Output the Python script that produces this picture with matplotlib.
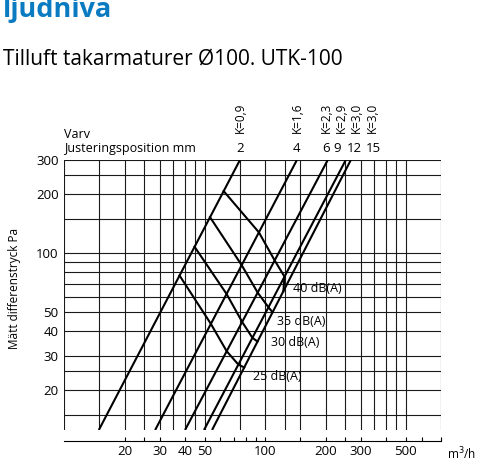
import numpy as np
import matplotlib.pyplot as plt

plt.rcParams['font.family'] = ['Open Sans', 'DejaVu Sans']

# K-value lines: flow (m3/h) at the bottom and top pressure (Pa)
k_names = ['K=0,9', 'K=1,6', 'K=2,3', 'K=2,9', 'K=3,0']
p_ends = [12.5, 300]
q_bottom = [14.9, 28.4, 40.0, 49.7, 54.5]
q_top = [75, 144, 205, 252, 267]

# sound level curves: pressure where each curve meets K=0,9 ... K=3,0
p_40db = [208, 128, 92, 76, 64]
p_35db = [153, 87, 63, 53, 50]
p_30db = [108, 62, 44.6, 37, 35.4]
p_25db = [77, 43.6, 31.6, 27, 26.1]
db_curves = [p_40db, p_35db, p_30db, p_25db]
db_names = ['40 dB(A)', '35 dB(A)', '30 dB(A)', '25 dB(A)']
db_label_q = [137, 114, 107, 87]
db_label_p = [66, 45, 35.2, 23.4]

# labels above the chart
top_k_names = ['K=0,9', 'K=1,6', 'K=2,3', 'K=2,9', 'K=3,0', 'K=3,0']
top_k_q = [75, 144, 202, 241, 286, 340]
pos_names = ['2', '4', '6', '9', '12', '15']
pos_q = [75, 144, 202, 229, 278, 346]

grid_q = [10, 15, 20, 25, 30, 35, 40, 45, 50, 75, 100, 125, 150, 200,
          250, 300, 350, 400, 450, 500, 750]
grid_p = [15, 20, 25, 30, 40, 50, 60, 70, 80, 90, 100, 150, 200, 250, 300]

x_major = [20, 30, 40, 50, 100, 200, 300, 500]
x_minor = [25, 60, 70, 80, 90, 150, 250, 400, 600, 750]
y_major = [20, 30, 40, 50, 100, 200, 300]

fig = plt.figure(figsize=(4.79, 4.62), dpi=100)
ax = fig.add_axes([64 / 479, 1 - 430 / 462, 377 / 479, 270 / 462])
ax.set_xscale('log')
ax.set_yscale('log')
ax.set_xlim(10, 750)
ax.set_ylim(12.5, 300)

for q in grid_q:
    ax.axvline(q, color='#1a1a1a', lw=0.8, zorder=1)
for p in grid_p:
    ax.axhline(p, color='#1a1a1a', lw=0.8, zorder=1)


def flow_on_k(i, p):
    return np.exp(np.interp(np.log(p), np.log(p_ends),
                            np.log([q_bottom[i], q_top[i]])))


for i in range(len(k_names)):
    ax.plot([q_bottom[i], q_top[i]], p_ends, color='k', lw=1.5,
            solid_capstyle='butt', zorder=3)

for curve, name, lq, lp in zip(db_curves, db_names, db_label_q, db_label_p):
    qs = [flow_on_k(i, p) for i, p in enumerate(curve)]
    ax.plot(qs, curve, color='k', lw=1.5, zorder=3)
    ax.text(lq, lp, name, fontsize=9, ha='left', va='center', zorder=4)

trans = ax.get_xaxis_transform()
for name, q in zip(top_k_names, top_k_q):
    ax.text(q, 1.1, name, rotation=90, fontsize=8.5, ha='center',
            va='bottom', transform=trans)
for name, q in zip(pos_names, pos_q):
    ax.text(q, 1.044, name, fontsize=9.5, ha='center', va='center',
            transform=trans)
ax.text(0, 1.096, 'Varv', fontsize=9, ha='left', va='center',
        transform=ax.transAxes)
ax.text(0, 1.044, 'Justeringsposition mm', fontsize=9, ha='left',
        va='center', transform=ax.transAxes)

for side in ['top', 'left', 'right']:
    ax.spines[side].set_visible(False)
ax.spines['bottom'].set_position(('outward', 8))
ax.spines['bottom'].set_linewidth(0.8)

ax.set_xticks(x_major)
ax.set_xticklabels([str(v) for v in x_major])
ax.set_xticks(x_minor, minor=True)
ax.tick_params(axis='x', which='both', direction='in', length=3,
               width=0.8, labelsize=9.5, pad=3)
ax.tick_params(axis='x', which='minor', labelbottom=False)
ax.set_yticks(y_major)
ax.set_yticklabels([str(v) for v in y_major])
ax.yaxis.set_minor_locator(plt.NullLocator())
ax.tick_params(axis='y', length=0, labelsize=9.5, pad=4)

ax.text(1.015, -0.09, 'm$^3$/h', fontsize=8.5, ha='left', va='center',
        transform=ax.transAxes)

fig.text(15 / 479, 1 - 288 / 462, 'Mätt differenstryck Pa', rotation=90,
         fontsize=8.5, ha='center', va='center')
fig.text(3 / 479, 1 - 17 / 462, 'ljudnivå', fontsize=19.5, fontweight='bold',
         color='#0b7bc1', va='baseline')
fig.text(3 / 479, 1 - 65 / 462, 'Tilluft takarmaturer Ø100. UTK-100',
         fontsize=15, va='baseline')

fig.savefig('out.png', dpi=100)
